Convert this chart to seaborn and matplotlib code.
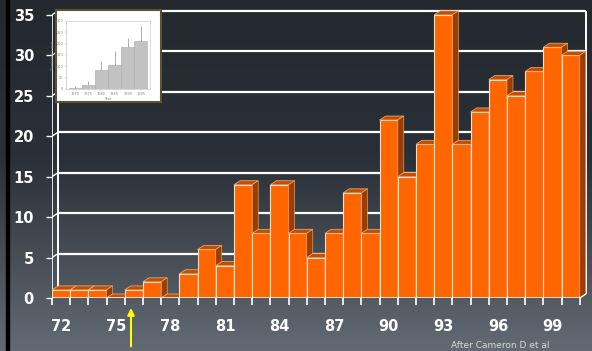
import numpy as np
import pandas as pd
import matplotlib
matplotlib.use("Agg")
import matplotlib.pyplot as plt
import seaborn as sns
from matplotlib.patches import Polygon, Rectangle
from matplotlib.colors import LinearSegmentedColormap

# ---------------- data ----------------
years = [str(y) for y in range(72, 101)]
counts = [1, 1, 1, 0, 1, 2, 0, 3, 6, 4, 14, 8, 14, 8, 5, 8, 13, 8,
          22, 15, 19, 35, 19, 23, 27, 25, 28, 31, 30]
tick_labels = ["72", "75", "78", "81", "84", "87", "90", "93", "96", "99"]
y_ticks = [0, 5, 10, 15, 20, 25, 30, 35]

inset_groups = ["1970", "1975", "1980", "1985", "1990", "1995"]
inset_means = [4, 19, 85, 104, 187, 212]
inset_err = [8, 18, 39, 64, 37, 66]
inset_yticks = [0, 50, 100, 150, 200, 250, 300]

# ---------------- style ----------------
sns.set_theme(style="white")
plt.rcParams["font.family"] = ["DejaVu Sans"]

W, H = 592, 351
fig = plt.figure(figsize=(W / 100, H / 100), dpi=100)

# background gradient
bg = fig.add_axes([0, 0, 1, 1], zorder=-10)
grad = np.linspace(0, 1, 256)[:, None]
cmap = LinearSegmentedColormap.from_list(
    "bg", [(0, "#242930"), (0.45, "#2a3037"), (1, "#626a73")])
bg.imshow(grad, aspect="auto", cmap=cmap, extent=[0, 1, 0, 1])
bg.set_xlim(0, 1)
bg.set_ylim(0, 1)
bg.add_patch(Rectangle((6 / W, 0), 3 / W, 1, color="black"))
bg.axis("off")

# main axes
left_px, right_px, top_px, bottom_px = 52, 590, 5, 298
ax = fig.add_axes([left_px / W, (H - bottom_px) / H,
                   (right_px - left_px) / W, (bottom_px - top_px) / H])
ax.patch.set_alpha(0)

df = pd.DataFrame({"year": years, "count": counts})
sns.barplot(data=df, x="year", y="count", order=years, color="#ff6600",
            saturation=1, width=1.0, edgecolor="#ffe0c8", linewidth=0.8,
            ax=ax)

px_per_x = 18.2
px_per_y = 8.09
dx = 6 / px_per_x
dy = 4 / px_per_y
ax.set_xlim(-0.5, -0.5 + (right_px - left_px) / px_per_x)
ax.set_ylim(0, (bottom_px - top_px) / px_per_y)

n = len(years)
for i, p in enumerate(sorted(ax.patches, key=lambda q: q.get_x())):
    x0, w, h = p.get_x(), p.get_width(), p.get_height()
    z = 10 + 3 * i
    p.set_zorder(z)
    top = Polygon([(x0, h), (x0 + w, h), (x0 + w + dx, h + dy), (x0 + dx, h + dy)],
                  closed=True, facecolor="#c04f00", edgecolor="#ffb080",
                  linewidth=0.5, zorder=z + 1)
    side = Polygon([(x0 + w, 0), (x0 + w + dx, dy), (x0 + w + dx, h + dy), (x0 + w, h)],
                   closed=True, facecolor="#9a3e00", edgecolor="#ffb080",
                   linewidth=0.4, zorder=z + 1)
    ax.add_patch(top)
    ax.add_patch(side)

xl, xr = -0.5, n - 0.5
# back wall grid
ax.hlines([v + dy for v in y_ticks if v > 0], xl + dx, xr + dx,
          colors="white", linewidth=1.6, zorder=1)
ax.vlines([xl + dx, xr + dx], dy, y_ticks[-1] + dy, colors="white",
          linewidth=1.4, zorder=1)
# front left axis
ax.vlines(xl, 0, y_ticks[-1], colors="white", linewidth=1.2, zorder=2)
for v in y_ticks:
    ax.plot([xl, xl + dx], [v, v + dy], color="white", lw=1.0, zorder=2)
ax.plot([xr, xr + dx], [0, dy], color="white", lw=1.0, zorder=200)
# front bottom axis
ax.hlines(0, xl, xr, colors="white", linewidth=1.8, zorder=200)

for s in ax.spines.values():
    s.set_visible(False)

ax.set_yticks(y_ticks)
ax.set_yticklabels([str(v) for v in y_ticks], fontweight="bold")
label_pos = [years.index(t) for t in tick_labels]
ax.set_xticks(label_pos)
ax.set_xticklabels(tick_labels, fontweight="bold")
ax.set_xticks(np.arange(-0.5, n, 1), minor=True)
ax.tick_params(axis="y", which="major", left=True, length=4, width=1,
               color="white", pad=9, labelsize=10.5, labelcolor="white")
ax.tick_params(axis="x", which="major", bottom=True, length=0, pad=15,
               labelsize=10.5, labelcolor="white")
ax.tick_params(axis="x", which="minor", bottom=True, length=5, width=1.2,
               color="white", direction="out")
ax.set_xlabel("")
ax.set_ylabel("")

# yellow arrow
ax.annotate("", xy=(3.84, -0.034), xytext=(3.84, -0.165),
            xycoords=ax.get_xaxis_transform(),
            arrowprops=dict(arrowstyle="-|>", color="#ffff00", lw=1.5,
                            mutation_scale=10, shrinkA=0, shrinkB=0),
            annotation_clip=False)

fig.text(500 / W, 1 - 345 / H, "After Cameron D et al", fontsize=6.5,
         color="#d8d8d8", ha="center", va="center")

# inset picture
oax = fig.add_axes([56 / W, 1 - 102 / H, 105 / W, 92 / H], zorder=50)
oax.set_facecolor("white")
oax.set_xticks([])
oax.set_yticks([])
for s in oax.spines.values():
    s.set_color("#5a5530")
    s.set_linewidth(1.5)

iax = fig.add_axes([66 / W, 1 - 89 / H, 84 / W, 68 / H], zorder=51)
idf = pd.DataFrame({"g": inset_groups, "m": inset_means})
sns.barplot(data=idf, x="g", y="m", order=inset_groups, color="#c2c2c2",
            saturation=1, width=1.0, edgecolor="#a8a8a8", linewidth=0.4,
            ax=iax)
iax.vlines(range(len(inset_groups)), inset_means,
           [m + e for m, e in zip(inset_means, inset_err)],
           colors="#a0a0a0", linewidth=0.6)
iax.set_ylim(0, inset_yticks[-1])
iax.set_xlim(-0.7, len(inset_groups) - 0.3)
iax.set_yticks(inset_yticks)
iax.tick_params(labelsize=2.5, labelcolor="#888888", length=1, width=0.3,
                color="#aaaaaa", pad=1, left=True, bottom=True)
iax.set_xlabel("Year", fontsize=2.5, color="#888888", labelpad=1)
iax.set_ylabel("Number of cases", fontsize=2.5, color="#888888", labelpad=1)
for s in iax.spines.values():
    s.set_color("#c8c8c8")
    s.set_linewidth(0.5)

fig.savefig("out.png", dpi=100)
